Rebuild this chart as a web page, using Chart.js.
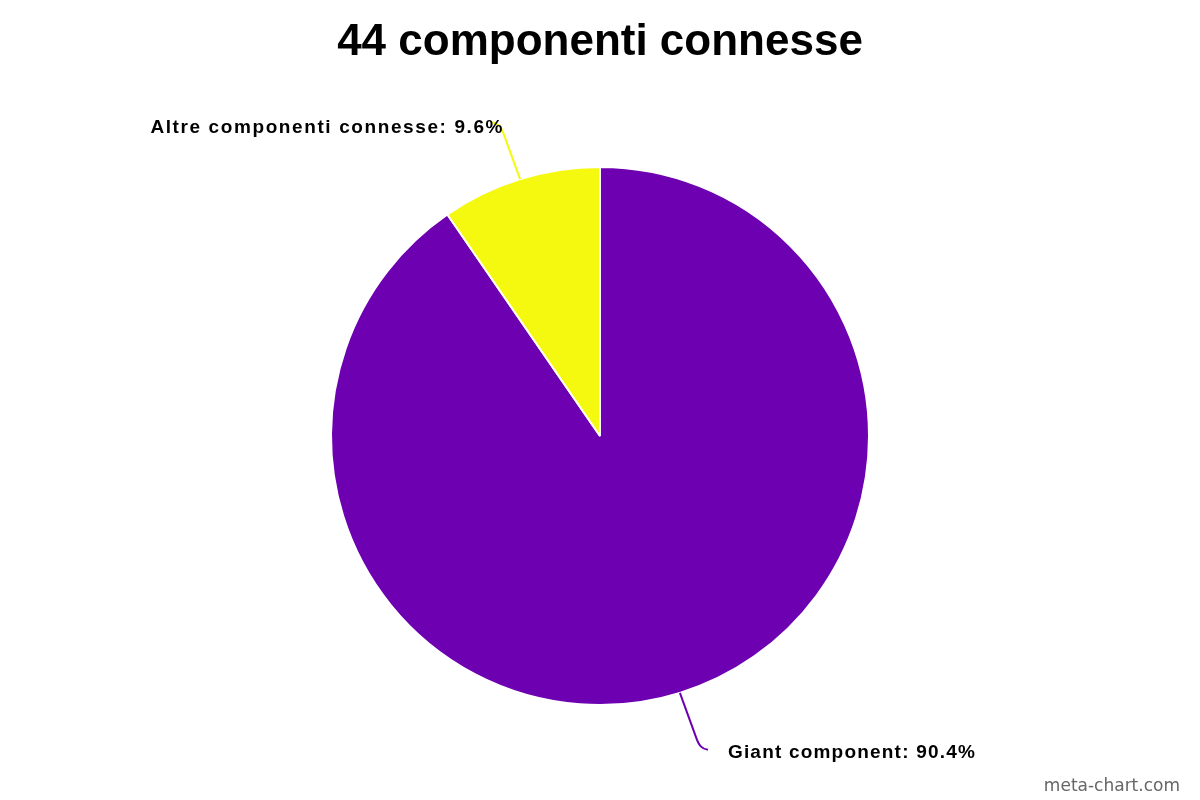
<!DOCTYPE html>
<html>
<head>
<meta charset="utf-8">
<script src="https://cdn.jsdelivr.net/npm/chart.js@4.4.0/dist/chart.umd.min.js"></script>
<style>
html,body{margin:0;padding:0;background:#fff;}
#wrap{width:1200px;height:800px;position:relative;}
</style>
</head>
<body>
<div id="wrap"><canvas id="c" width="1200" height="800"></canvas></div>
<script>
const categories = ["Giant component", "Altre componenti connesse"];
const values = [90.4, 9.6];
const colors = ["#6d00b0", "#f5f90f"];
const titleText = "44 componenti connesse";
const watermark = "meta-chart.com";

const labelPlugin = {
  id: 'leaderLabels',
  afterDatasetsDraw(chart) {
    const ctx = chart.ctx;
    const meta = chart.getDatasetMeta(0);
    meta.data.forEach((arc, i) => {
      const p = arc.getProps(['x','y','startAngle','endAngle','outerRadius'], true);
      const mid = (p.startAngle + p.endAngle) / 2;
      const ax = p.x + Math.cos(mid) * p.outerRadius;
      const ay = p.y + Math.sin(mid) * p.outerRadius;
      const right = Math.cos(mid) >= 0;
      const down = Math.sin(mid) >= 0;
      const dy = down ? 1 : -1;
      const dx = right ? 1 : -1;
      ctx.save();
      ctx.strokeStyle = colors[i];
      ctx.lineWidth = 2;
      ctx.beginPath();
      ctx.moveTo(ax, ay);
      const bx = ax + dx * 16, by = ay + dy * 44;
      ctx.lineTo(bx, by);
      ctx.bezierCurveTo(bx + dx * 3, by + dy * 9, bx + dx * 6, by + dy * 12, bx + dx * 12, by + dy * 13);
      ctx.stroke();
      const text = categories[i] + ": " + values[i] + "%";
      ctx.fillStyle = "#000";
      ctx.font = "bold 19px 'Liberation Sans', Arial, sans-serif";
      ctx.textBaseline = "alphabetic";
      if (right) {
        ctx.letterSpacing = "1.2px";
        ctx.textAlign = "left";
        ctx.fillText(text, bx + 32, by + dy * 13 + 8);
      } else {
        ctx.letterSpacing = "1.6px";
        ctx.textAlign = "right";
        ctx.fillText(text, bx + 0, by + dy * 13 + 11);
      }
      ctx.restore();
    });
    ctx.save();
    ctx.font = "17px 'DejaVu Sans', Verdana, sans-serif";
    ctx.fillStyle = "#666";
    ctx.textAlign = "right";
    ctx.textBaseline = "alphabetic";
    ctx.fillText(watermark, 1180, 791);
    ctx.restore();
  }
};

new Chart(document.getElementById('c'), {
  type: 'pie',
  data: {
    labels: categories,
    datasets: [{
      data: values,
      backgroundColor: colors,
      borderColor: "#fff",
      borderWidth: 2
    }]
  },
  options: {
    responsive: false,
    animation: false,
    layout: { padding: { top: 0, bottom: 94, left: 0, right: 0 } },
    plugins: {
      legend: { display: false },
      tooltip: { enabled: false },
      title: {
        display: true,
        text: titleText,
        color: "#000",
        font: { family: "'Liberation Sans', Arial, sans-serif", size: 44, weight: 'bold', lineHeight: 1.1 },
        padding: { top: 19, bottom: 98.6 }
      }
    }
  },
  plugins: [labelPlugin]
});
</script>
</body>
</html>
